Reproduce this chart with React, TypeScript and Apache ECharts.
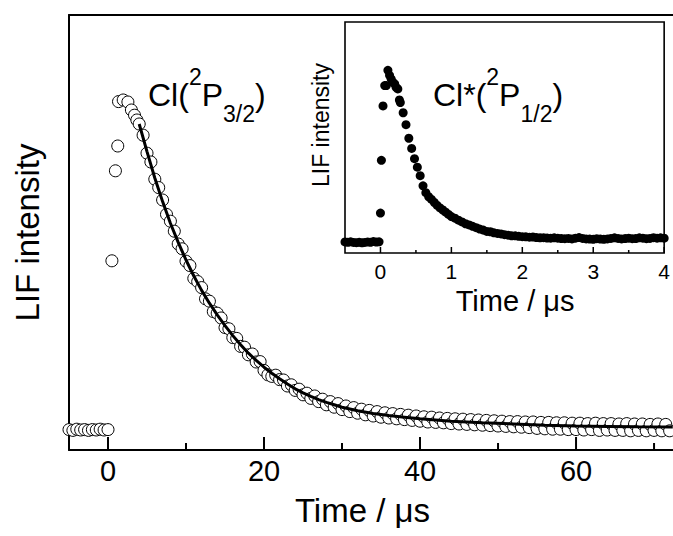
import React, { useEffect, useRef } from 'react';
import * as echarts from 'echarts';

const FONT = '"Liberation Sans", Arial, Helvetica, sans-serif';

// ---- Main panel: Cl(2P3/2) LIF decay (Time in µs, intensity arbitrary) ----
const mainBaseline: [number, number][] = [
  [-5, 0.001], [-4.5, -0.001], [-4, 0.002], [-3.5, 0], [-3, 0.001], [-2.5, -0.001],
  [-2, 0.001], [-1.5, 0], [-1, 0.002], [-0.5, 0], [0, 0.001],
];
const mainRise: [number, number][] = [
  [0.5, 0.423], [0.95, 0.648], [1.25, 0.71], [1.35, 0.821], [1.95, 0.825],
  [2.55, 0.82], [3.0, 0.8], [3.4, 0.787], [3.7, 0.775], [4.0, 0.765],
];
const mainDecay: [number, number][] = [
  [4.5, 0.737], [5, 0.692], [5.5, 0.67], [6, 0.627], [6.5, 0.606], [7, 0.575], [7.5, 0.539], [8, 0.522],
  [8.5, 0.497], [9, 0.465], [9.5, 0.453], [10, 0.422], [10.5, 0.411], [11, 0.379], [11.5, 0.371], [12, 0.356],
  [12.5, 0.328], [13, 0.322], [13.5, 0.296], [14, 0.292], [14.5, 0.28], [15, 0.256], [15.5, 0.253], [16, 0.231],
  [16.5, 0.229], [17, 0.209], [17.5, 0.207], [18, 0.188], [18.5, 0.19], [19, 0.17], [19.5, 0.171], [20, 0.149],
  [20.5, 0.138], [21, 0.134], [21.5, 0.137], [22, 0.126], [22.5, 0.125], [23, 0.11], [23.5, 0.113], [24, 0.099],
  [24.5, 0.102], [25, 0.088], [25.5, 0.092], [26, 0.079], [26.5, 0.085], [27, 0.071], [27.5, 0.077], [28, 0.063],
  [28.5, 0.071], [29, 0.057], [29.5, 0.066], [30, 0.051], [30.5, 0.06], [31, 0.046], [31.5, 0.056], [32, 0.042],
  [32.5, 0.052], [33, 0.038], [33.5, 0.049], [34, 0.035], [34.5, 0.046], [35, 0.032], [35.5, 0.043], [36, 0.03],
  [36.5, 0.041], [37, 0.028], [37.5, 0.039], [38, 0.026], [38.5, 0.037], [39, 0.024], [39.5, 0.035], [40, 0.022],
  [40.5, 0.033], [41, 0.02], [41.5, 0.032], [42, 0.019], [42.5, 0.03], [43, 0.018], [43.5, 0.029], [44, 0.016],
  [44.5, 0.028], [45, 0.015], [45.5, 0.027], [46, 0.014], [46.5, 0.026], [47, 0.013], [47.5, 0.025], [48, 0.012],
  [48.5, 0.024], [49, 0.011], [49.5, 0.023], [50, 0.01], [50.5, 0.022], [51, 0.009], [51.5, 0.021], [52, 0.008],
  [52.5, 0.021], [53, 0.007], [53.5, 0.02], [54, 0.006], [54.5, 0.02], [55, 0.004], [55.5, 0.019], [56, 0.003],
  [56.5, 0.019], [57, 0.002], [57.5, 0.018], [58, 0.002], [58.5, 0.018], [59, 0.001], [59.5, 0.017], [60, 0.001],
  [60.5, 0.017], [61, 0.0], [61.5, 0.016], [62, 0.001], [62.5, 0.017], [63, -0.001], [63.5, 0.016], [64, 0.0],
  [64.5, 0.016], [65, -0.001], [65.5, 0.015], [66, -0.001], [66.5, 0.016], [67, -0.002], [67.5, 0.015], [68, -0.001],
  [68.5, 0.015], [69, -0.002], [69.5, 0.014], [70, -0.001], [70.5, 0.015], [71, -0.002], [71.5, 0.014], [72, -0.002],
];
const mainFit: [number, number][] = [
  [4, 0.765], [5, 0.696], [6, 0.63], [7, 0.571], [8, 0.517], [9, 0.469], [10, 0.425], [11, 0.385],
  [12, 0.349], [13, 0.317], [14, 0.288], [15, 0.261], [16, 0.236], [17, 0.213], [18, 0.192], [19, 0.174],
  [20, 0.157], [21, 0.142], [22, 0.128], [23, 0.115], [24, 0.103], [25, 0.093], [26, 0.084], [27, 0.076],
  [28, 0.069], [29, 0.063], [30, 0.057], [32, 0.048], [34, 0.041], [36, 0.036], [38, 0.032], [40, 0.028],
  [44, 0.022], [48, 0.018], [52, 0.015], [56, 0.012], [60, 0.01], [64, 0.009], [68, 0.008], [72.4, 0.0075],
];
const mainMajorTicks = [0, 20, 40, 60];
const mainMinorTicks = [10, 30, 50, 70];

// ---- Inset: Cl*(2P1/2) ----
const insetBaseline: [number, number][] = [
  [-0.5, 0.0], [-0.46, -0.002], [-0.42, 0.001], [-0.38, -0.003], [-0.34, -0.004], [-0.3, -0.002],
  [-0.26, -0.005], [-0.22, -0.003], [-0.18, 0.0], [-0.14, -0.002], [-0.1, 0.002], [-0.06, -0.001], [-0.02, 0.001],
];
const insetRise: [number, number][] = [
  [0, 0.17], [0.013, 0.48], [0.036, 0.8], [0.06, 0.92], [0.083, 0.92], [0.105, 1.01], [0.128, 0.98],
  [0.15, 0.96], [0.175, 0.94], [0.2, 0.93], [0.22, 0.91], [0.245, 0.9], [0.267, 0.835],
];
const insetDecay: [number, number][] = [
  [0.28, 0.82], [0.32, 0.76], [0.36, 0.69], [0.4, 0.61], [0.44, 0.55], [0.48, 0.49], [0.52, 0.44], [0.56, 0.39],
  [0.6, 0.33], [0.64, 0.29], [0.68, 0.266], [0.72, 0.25], [0.76, 0.232], [0.8, 0.215], [0.84, 0.2], [0.88, 0.188],
  [0.92, 0.175], [0.96, 0.162], [1.0, 0.149], [1.05, 0.14], [1.1, 0.128], [1.15, 0.118], [1.2, 0.107], [1.25, 0.1],
  [1.3, 0.092], [1.35, 0.084], [1.4, 0.076], [1.45, 0.07], [1.5, 0.062], [1.55, 0.06], [1.6, 0.054], [1.65, 0.05],
  [1.7, 0.047], [1.75, 0.043], [1.8, 0.04], [1.85, 0.036], [1.9, 0.036], [1.95, 0.033], [2.0, 0.031], [2.05, 0.03],
  [2.1, 0.028], [2.15, 0.029], [2.2, 0.026], [2.25, 0.024], [2.3, 0.025], [2.35, 0.023], [2.4, 0.022], [2.45, 0.024],
  [2.5, 0.022], [2.55, 0.02], [2.6, 0.019], [2.65, 0.021], [2.7, 0.018], [2.75, 0.022], [2.8, 0.026], [2.85, 0.021],
  [2.9, 0.018], [2.95, 0.017], [3.0, 0.016], [3.05, 0.019], [3.1, 0.017], [3.15, 0.016], [3.2, 0.018], [3.25, 0.021],
  [3.3, 0.024], [3.35, 0.021], [3.4, 0.018], [3.45, 0.02], [3.5, 0.022], [3.55, 0.019], [3.6, 0.02], [3.65, 0.024],
  [3.7, 0.022], [3.75, 0.019], [3.8, 0.021], [3.85, 0.025], [3.9, 0.022], [3.95, 0.024], [4.0, 0.022],
];
const insetMajorTicks = [0, 1, 2, 3, 4];
const insetMinorTicks = [0.5, 1.5, 2.5, 3.5];

const X_TITLE = 'Time / μs';
const Y_TITLE = 'LIF intensity';
const MAIN_LABEL = '{n|Cl(}{sup|2}{n|P}{sub|3/2}{n|)}';
const INSET_LABEL = '{n|Cl*(}{sup|2}{n|P}{sub|1/2}{n|)}';

const MAIN_X = [-5, 72.43];
const MAIN_Y = [-0.05, 1.0375];
const INSET_X = [-0.5, 4];
const INSET_Y = [-0.065, 1.294];

const black = '#000';

const richStyles = {
  n: { fontSize: 32, fontFamily: FONT, fill: black, lineHeight: 60, verticalAlign: 'middle' },
  sup: { fontSize: 23, fontFamily: FONT, fill: black, lineHeight: 44, verticalAlign: 'top' },
  sub: { fontSize: 23, fontFamily: FONT, fill: black, lineHeight: 28, verticalAlign: 'bottom' },
};

const labelGraphics = [
  {
    type: 'text', x: 148, y: 65, z: 10,
    style: { text: MAIN_LABEL, rich: richStyles, align: 'left', verticalAlign: 'top' },
  },
  {
    type: 'text', x: 433, y: 65, z: 10,
    style: { text: INSET_LABEL, rich: richStyles, align: 'left', verticalAlign: 'top' },
  },
];

export default function App() {
  const ref = useRef<HTMLDivElement>(null);
  useEffect(() => {
    if (!ref.current) return;
    const chart = echarts.init(ref.current, null, { renderer: 'svg' });
    const option: any = {
      animation: false,
      backgroundColor: '#fff',
      grid: [
        { left: 69, right: -1, top: 15, bottom: 86, show: false },
        {
          left: 345, right: 3, top: 22, bottom: 283, show: true,
          borderColor: black, borderWidth: 1.6, backgroundColor: 'transparent', z: 5,
        },
      ],
      xAxis: [
        {
          type: 'value', gridIndex: 0, min: MAIN_X[0], max: MAIN_X[1], splitNumber: 4, minInterval: 20, maxInterval: 20,
          axisLine: { show: true, onZero: false, lineStyle: { color: black, width: 2 } },
          axisTick: { show: false },
          minorTick: { show: false },
          axisLabel: { fontSize: 29, color: black, fontFamily: FONT, margin: 6, showMinLabel: false, showMaxLabel: false },
          splitLine: { show: false },
          name: X_TITLE, nameLocation: 'middle', nameGap: 44,
          nameTextStyle: { fontSize: 33, fontFamily: FONT, color: black, padding: [0, 17, 0, 0] },
        },
        {
          type: 'value', gridIndex: 0, position: 'top', min: MAIN_X[0], max: MAIN_X[1],
          axisLine: { show: true, onZero: false, lineStyle: { color: black, width: 2 } },
          axisTick: { show: false }, axisLabel: { show: false }, splitLine: { show: false },
        },
        {
          type: 'value', gridIndex: 1, min: INSET_X[0], max: INSET_X[1], splitNumber: 4, minInterval: 1, maxInterval: 1,
          axisLine: { show: false, onZero: false },
          axisTick: { show: false },
          minorTick: { show: false },
          axisLabel: { fontSize: 21, color: black, fontFamily: FONT, margin: 8, showMinLabel: false },
          splitLine: { show: false },
          name: X_TITLE, nameLocation: 'middle', nameGap: 33,
          nameTextStyle: { fontSize: 29, fontFamily: FONT, color: black, padding: [0, 0, 0, 21] },
        },
      ],
      yAxis: [
        {
          type: 'value', gridIndex: 0, min: MAIN_Y[0], max: MAIN_Y[1],
          axisLine: { show: true, onZero: false, lineStyle: { color: black, width: 2 } },
          axisTick: { show: false }, axisLabel: { show: false }, splitLine: { show: false },
          name: Y_TITLE, nameLocation: 'middle', nameGap: 25, nameRotate: 90,
          nameTextStyle: { fontSize: 33, fontFamily: FONT, color: black },
        },
        {
          type: 'value', gridIndex: 1, min: INSET_Y[0], max: INSET_Y[1],
          axisLine: { show: false, onZero: false }, axisTick: { show: false }, axisLabel: { show: false }, splitLine: { show: false },
          name: Y_TITLE, nameLocation: 'middle', nameGap: 13, nameRotate: 90,
          nameTextStyle: { fontSize: 23, fontFamily: FONT, color: black, padding: [0, 0, 0, 25] },
        },
      ],
      series: [
        {
          type: 'scatter', xAxisIndex: 0, yAxisIndex: 0,
          data: [...mainBaseline, ...mainRise, ...mainDecay],
          symbol: 'circle', symbolSize: 12,
          itemStyle: { color: '#fff', borderColor: black, borderWidth: 1, opacity: 1 },
          z: 2,
        },
        {
          type: 'line', xAxisIndex: 0, yAxisIndex: 0, data: mainFit,
          showSymbol: false, smooth: false,
          lineStyle: { color: black, width: 3 },
          z: 3,
        },
        {
          type: 'scatter', xAxisIndex: 2, yAxisIndex: 1,
          data: [...insetBaseline, ...insetRise, ...insetDecay],
          symbol: 'circle', symbolSize: 9,
          itemStyle: { color: black, opacity: 1 },
          z: 4,
        },
      ],
      graphic: labelGraphics,
    };
    chart.setOption(option);

    // Tick marks placed through the axes' own scales (inward-pointing).
    const ticks: any[] = [];
    const addTicks = (finder: any, values: number[], yMin: number, len: number, width: number) => {
      values.forEach((v) => {
        const p = chart.convertToPixel(finder, [v, yMin]) as number[];
        if (!p || !isFinite(p[0]) || !isFinite(p[1])) return;
        ticks.push({
          type: 'line', z: 20, silent: true,
          shape: { x1: p[0], y1: p[1], x2: p[0], y2: p[1] - len },
          style: { stroke: black, lineWidth: width },
        });
      });
    };
    addTicks({ xAxisIndex: 0, yAxisIndex: 0 }, mainMajorTicks, MAIN_Y[0], 13, 2);
    addTicks({ xAxisIndex: 0, yAxisIndex: 0 }, mainMinorTicks, MAIN_Y[0], 7, 2);
    addTicks({ xAxisIndex: 2, yAxisIndex: 1 }, insetMajorTicks, INSET_Y[0], 6, 1.5);
    addTicks({ xAxisIndex: 2, yAxisIndex: 1 }, insetMinorTicks, INSET_Y[0], 3, 1.5);
    chart.setOption({ graphic: [...labelGraphics, ...ticks] });

    return () => chart.dispose();
  }, []);
  return (
    <div
      ref={ref}
      style={{ position: 'fixed', left: 0, top: 0, width: 673, height: 536, background: '#fff' }}
    />
  );
}
